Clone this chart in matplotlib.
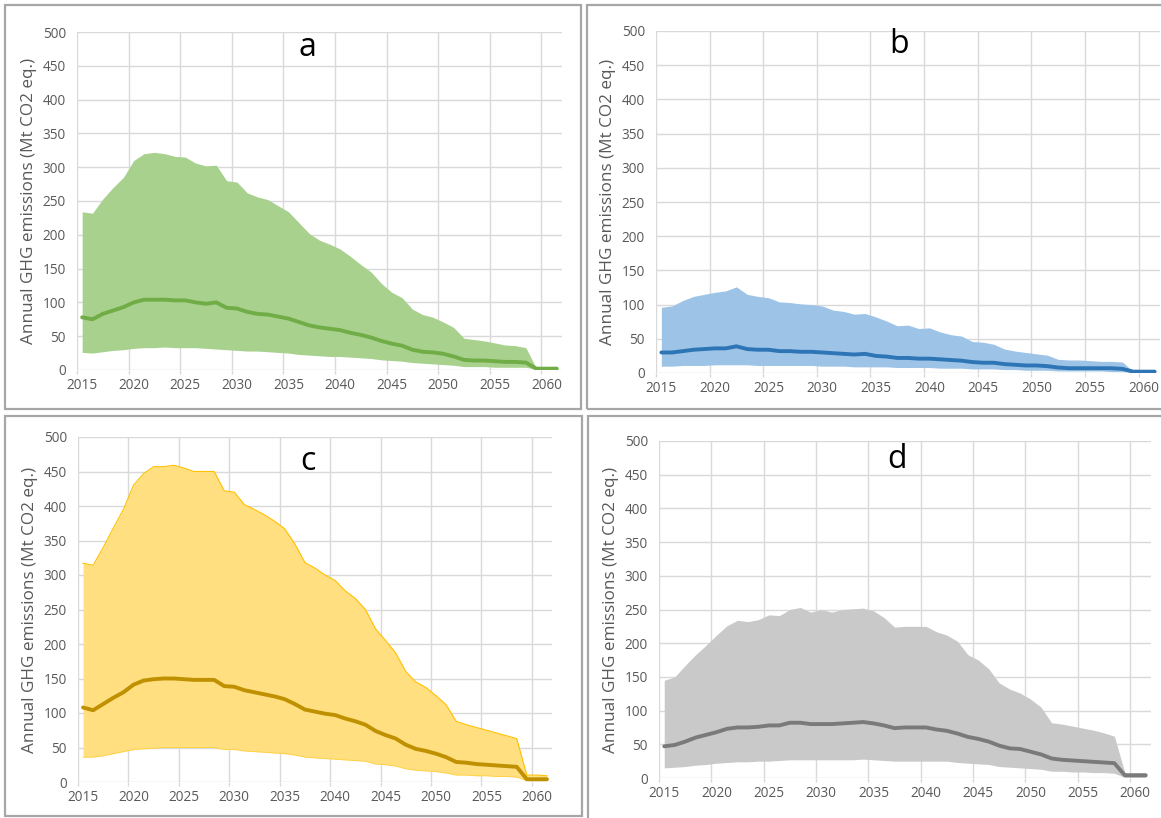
import numpy as np
import matplotlib.pyplot as plt
from matplotlib.patches import Rectangle

plt.rcParams['font.family'] = ['Open Sans', 'DejaVu Sans']

years = list(range(2015, 2062))

# panel a
a_high = [234, 232, 253, 270, 285, 310, 320, 322, 320, 316,
          315, 306, 302, 303, 280, 278, 262, 256, 252, 243,
          234, 218, 202, 192, 186, 179, 168, 156, 145, 128,
          115, 107, 90, 82, 78, 71, 63, 47, 45, 43,
          40, 37, 36, 33, 3, 3, 3]
a_mean = [78, 75, 83, 88, 93, 100, 104, 104, 104, 103,
          103, 100, 98, 100, 92, 91, 86, 83, 82, 79,
          76, 71, 66, 63, 61, 59, 55, 52, 48, 43,
          39, 36, 30, 27, 26, 24, 20, 15, 14, 14,
          13, 12, 12, 11, 2, 2, 2]
a_low = [26, 25, 27, 29, 30, 32, 33, 33, 34, 33,
         33, 33, 32, 31, 30, 29, 28, 28, 27, 26,
         25, 23, 22, 21, 20, 20, 19, 18, 17, 15,
         14, 13, 11, 10, 9, 8, 7, 5, 5, 5,
         4, 4, 4, 4, 1, 1, 1]

# panel b
b_high = [96, 98, 106, 112, 115, 118, 120, 126, 115, 112,
          110, 104, 103, 101, 100, 98, 92, 90, 86, 87,
          82, 76, 69, 70, 65, 66, 60, 56, 54, 46,
          45, 42, 35, 32, 30, 28, 26, 20, 19, 19,
          18, 17, 17, 16, 2, 2, 2]
b_mean = [30, 30, 32, 34, 35, 36, 36, 39, 35, 34,
          34, 32, 32, 31, 31, 30, 29, 28, 27, 28,
          25, 24, 22, 22, 21, 21, 20, 19, 18, 16,
          15, 15, 13, 12, 11, 11, 10, 8, 7, 7,
          7, 7, 7, 6, 2, 2, 2]
b_low = [10, 10, 11, 11, 11, 12, 12, 12, 12, 11,
         11, 11, 11, 11, 11, 10, 10, 10, 9, 9,
         9, 9, 8, 8, 8, 8, 7, 7, 7, 6,
         6, 6, 5, 5, 4, 4, 4, 3, 3, 3,
         3, 3, 2, 2, 1, 1, 1]

# panel c
c_high = [317, 314, 340, 368, 395, 430, 447, 457, 457, 459,
          455, 450, 450, 450, 422, 420, 402, 395, 387, 378,
          367, 345, 318, 310, 300, 292, 277, 266, 250, 222,
          205, 187, 160, 145, 137, 125, 112, 88, 83, 79,
          75, 71, 67, 63, 10, 10, 9]
c_mean = [108, 104, 113, 122, 130, 141, 147, 149, 150, 150,
          149, 148, 148, 148, 139, 138, 133, 130, 127, 124,
          120, 113, 105, 102, 99, 97, 92, 88, 83, 74,
          68, 63, 54, 48, 45, 41, 36, 29, 28, 26,
          25, 24, 23, 22, 4, 4, 4]
c_low = [36, 36, 38, 41, 44, 47, 48, 49, 50, 50,
         50, 50, 50, 50, 47, 47, 45, 44, 43, 42,
         41, 39, 36, 35, 34, 33, 32, 31, 30, 26,
         25, 23, 19, 17, 16, 15, 13, 10, 10, 9,
         9, 8, 8, 7, 2, 2, 2]

# panel d
d_high = [145, 150, 167, 183, 197, 212, 226, 234, 232, 235,
          242, 241, 250, 253, 246, 250, 246, 250, 251, 252,
          248, 238, 224, 225, 225, 225, 217, 212, 203, 183,
          175, 162, 141, 132, 126, 117, 105, 82, 80, 77,
          74, 71, 67, 62, 8, 8, 8]
d_mean = [47, 49, 54, 60, 64, 68, 73, 75, 75, 76,
          78, 78, 82, 82, 80, 80, 80, 81, 82, 83,
          81, 78, 74, 75, 75, 75, 72, 70, 66, 61,
          58, 54, 48, 44, 43, 39, 35, 29, 27, 26,
          25, 24, 23, 22, 4, 4, 4]
d_low = [15, 16, 17, 19, 20, 22, 23, 24, 24, 25,
         25, 26, 27, 27, 27, 27, 27, 27, 27, 28,
         27, 26, 25, 25, 25, 25, 25, 25, 23, 22,
         21, 20, 17, 16, 15, 14, 13, 10, 10, 9,
         9, 8, 8, 7, 1, 1, 1]

x_labels = list(range(2015, 2061, 5))
y_ticks = list(range(0, 501, 50))

W, H = 1161, 818
fig = plt.figure(figsize=(W / 100, H / 100), dpi=100)

def px_box(l, t, r, b):
    return [l / W, 1 - b / H, (r - l) / W, (b - t) / H]

# frames around each chart
for l, t, r, b in [(5, 5, 581, 409), (587, 5, 1170, 409),
                   (5, 416, 582, 816), (588, 416, 1170, 830)]:
    fig.patches.append(Rectangle((l / W, 1 - b / H), (r - l) / W, (b - t) / H,
                                 transform=fig.transFigure, fill=False,
                                 edgecolor='#a6a6a6', lw=1.6))

panels = [
    ('a', px_box(77, 32, 562, 370), a_low, a_mean, a_high, '#a9d18e', '#70ad47', None, (0.476, 0.953)),
    ('b', px_box(656, 31, 1160, 373), b_low, b_mean, b_high, '#9dc3e6', '#2e75b6', None, (0.482, 0.96)),
    ('c', px_box(78, 437, 552, 782), c_low, c_mean, c_high, '#ffdf7f', '#bf9000', '#ffc000', (0.485, 0.93)),
    ('d', px_box(659, 441, 1151, 778), d_low, d_mean, d_high, '#c9c9c9', '#7a7a7a', None, (0.484, 0.944)),
]

for letter, box, low, mean, high, fill_col, line_col, edge_col, txt_pos in panels:
    ax = fig.add_axes(box)
    ax.fill_between(years, low, high, color=fill_col, lw=0, zorder=2)
    if edge_col:
        ax.plot(years, high, color=edge_col, lw=0.8, zorder=2)
        ax.plot(years, low, color=edge_col, lw=0.6, alpha=0.5, zorder=2)
    ax.plot(years, mean, color=line_col, lw=2.8, solid_joinstyle='round',
            solid_capstyle='round', zorder=3)

    ax.set_xlim(2014.5, 2061.5)
    ax.set_ylim(0, 500)
    ax.set_yticks(y_ticks)
    ax.set_xticks(x_labels)
    ax.set_xticks([yr - 0.5 for yr in range(2015, 2061, 5)], minor=True)
    ax.grid(axis='y', color='#d9d9d9', lw=1.0, zorder=0)
    ax.grid(axis='x', which='minor', color='#d9d9d9', lw=1.0, zorder=0)
    ax.set_axisbelow(True)
    for s in ax.spines.values():
        s.set_visible(False)
    ax.tick_params(axis='x', which='major', length=0, pad=6, labelsize=9.8, labelcolor='#595959')
    ax.tick_params(axis='x', which='minor', length=3, width=1, color='#d9d9d9', direction='out')
    ax.tick_params(axis='y', length=0, pad=8, labelsize=9.8, labelcolor='#595959')
    ax.set_ylabel('Annual GHG emissions (Mt CO2 eq.)', fontsize=12.3, color='#595959', labelpad=4)
    ax.text(txt_pos[0], txt_pos[1], letter, transform=ax.transAxes, fontsize=23,
            ha='center', va='center', color='black')

fig.savefig('out.png', dpi=100)
